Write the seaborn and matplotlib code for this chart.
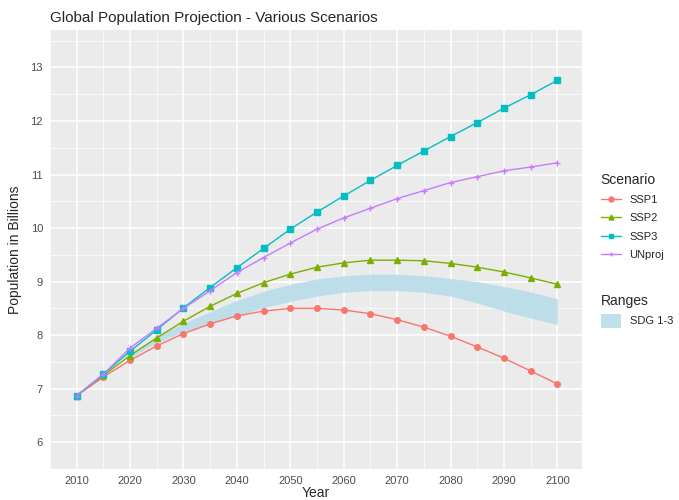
import numpy as np
import pandas as pd
import matplotlib
matplotlib.use("Agg")
import matplotlib.pyplot as plt
import seaborn as sns
from matplotlib.lines import Line2D
from matplotlib.patches import Patch

# -----------------------------
# Data
# -----------------------------
years = list(range(2010, 2101, 5))

ssp1 = [6.87, 7.22, 7.53, 7.80, 8.03, 8.21, 8.36, 8.45, 8.50, 8.50,
        8.47, 8.40, 8.29, 8.15, 7.98, 7.78, 7.57, 7.33, 7.09]
ssp2 = [6.87, 7.25, 7.62, 7.95, 8.26, 8.54, 8.78, 8.98, 9.14, 9.27,
        9.35, 9.40, 9.40, 9.39, 9.34, 9.27, 9.18, 9.07, 8.95]
ssp3 = [6.87, 7.27, 7.70, 8.10, 8.51, 8.89, 9.26, 9.62, 9.98, 10.30,
        10.60, 10.89, 11.17, 11.44, 11.71, 11.97, 12.24, 12.49, 12.76]
unproj = [6.87, 7.27, 7.76, 8.13, 8.50, 8.83, 9.17, 9.45, 9.72, 9.98,
          10.19, 10.37, 10.55, 10.70, 10.85, 10.96, 11.07, 11.14, 11.22]

sdg_years = list(range(2020, 2101, 5))
sdg_low = [7.58, 7.86, 8.06, 8.22, 8.37, 8.51, 8.63, 8.73, 8.80, 8.83,
           8.83, 8.80, 8.73, 8.60, 8.45, 8.32, 8.20]
sdg_high = [7.62, 7.98, 8.22, 8.44, 8.65, 8.82, 8.95, 9.05, 9.11, 9.14,
            9.14, 9.11, 9.06, 9.00, 8.91, 8.81, 8.68]

scenarios = ["SSP1", "SSP2", "SSP3", "UNproj"]
colors = ["#F8766D", "#7CAE00", "#00BFC4", "#C77CFF"]
markers = ["o", "^", "s", "+"]

df = pd.DataFrame({
    "Year": years * 4,
    "Population": ssp1 + ssp2 + ssp3 + unproj,
    "Scenario": sum([[s] * len(years) for s in scenarios], []),
})

# -----------------------------
# Plot
# -----------------------------
sns.set_style("darkgrid", {"axes.facecolor": "#EBEBEB", "grid.color": "white"})
plt.rcParams["font.family"] = ["Liberation Sans", "DejaVu Sans"]

fig = plt.figure(figsize=(6.79, 5.0), dpi=100)
ax = fig.add_axes([0.0736, 0.062, 0.7834, 0.878])

ax.fill_between(sdg_years, sdg_low, sdg_high, color="#B5DCE9", alpha=0.85,
                linewidth=0, zorder=2)

# one call per scenario (filled and line-art markers can't share a style map)
for name, c, m in zip(scenarios, colors, markers):
    sns.lineplot(data=df[df["Scenario"] == name], x="Year", y="Population",
                 color=c, marker=m, markersize=4, markeredgewidth=1.0,
                 markeredgecolor=c, linewidth=1.0, ax=ax, zorder=3)

ax.set_xlim(2005.5, 2104.6)
ax.set_ylim(5.64, 13.7)
ax.set_xticks(range(2010, 2101, 10))
ax.set_yticks(range(6, 14))
ax.set_xticks(range(2005, 2105, 10), minor=True)
ax.set_yticks(np.arange(5.5, 14, 1.0), minor=True)
ax.grid(which="major", color="white", linewidth=1.1)
ax.grid(which="minor", color="white", linewidth=0.5)
ax.tick_params(axis="both", which="major", length=3, color="#333333",
               labelsize=8, labelcolor="#4D4D4D", pad=2)
ax.tick_params(axis="both", which="minor", length=0)
for s in ax.spines.values():
    s.set_visible(False)

ax.set_xlabel("Year", fontsize=10, labelpad=0)
ax.set_ylabel("Population in Billions", fontsize=10, labelpad=6)
ax.set_title("Global Population Projection - Various Scenarios", fontsize=11,
             loc="left", pad=6)

# Legends
scen_handles = [Line2D([0], [0], color=c, marker=m, markersize=3.5,
                       markeredgecolor=c, linewidth=1.0)
                for c, m in zip(colors, markers)]
leg1 = fig.legend(scen_handles, scenarios, title="Scenario", loc="upper left",
                  bbox_to_anchor=(0.87, 0.675), frameon=False, fontsize=8,
                  title_fontsize=10, handlelength=1.8, labelspacing=0.75,
                  alignment="left")
range_handles = [Patch(facecolor="#B5DCE9", alpha=0.85, edgecolor="none")]
leg2 = fig.legend(range_handles, ["SDG 1-3"], title="Ranges", loc="upper left",
                  bbox_to_anchor=(0.87, 0.432), frameon=False, fontsize=8,
                  title_fontsize=10, handlelength=1.8, handleheight=1.6,
                  alignment="left")

fig.savefig("out.png", dpi=100)
